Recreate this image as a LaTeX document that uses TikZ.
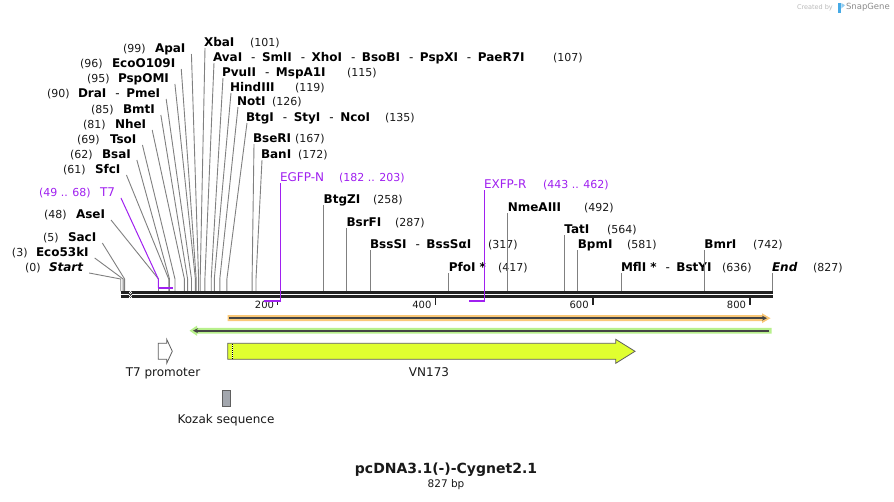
\documentclass[tikz,border=0pt]{standalone}
\usepackage{fontspec}
\setmainfont{DejaVu Sans}
\usetikzlibrary{arrows.meta}
\definecolor{prim}{RGB}{160,32,240}
\definecolor{sitegray}{RGB}{128,128,128}
\definecolor{bb}{RGB}{34,34,34}
\definecolor{orangeF}{RGB}{250,200,120}
\definecolor{greenF}{RGB}{184,240,140}
\definecolor{vnF}{RGB}{224,255,48}
\definecolor{kozF}{RGB}{163,167,174}
\definecolor{edgeG}{RGB}{95,95,95}
\definecolor{darkF}{RGB}{68,68,68}
\definecolor{sgblue}{RGB}{70,170,230}
\tikzset{
  every node/.style={inner sep=0pt, outer sep=0pt},
  namelab/.style={font=\fontsize{12}{14}\selectfont\bfseries, text=black},
  numlab/.style={font=\fontsize{11}{13}\selectfont, text=black!90},
  primlab/.style={font=\fontsize{12}{14}\selectfont, text=prim},
  primnum/.style={font=\fontsize{11}{13}\selectfont, text=prim},
  siteline/.style={draw=sitegray, line width=0.9pt},
  primline/.style={draw=prim, line width=1.3pt},
  primbar/.style={draw=prim, line width=2pt},
  featlab/.style={font=\fontsize{12}{14}\selectfont, text=black!90},
  ticklab/.style={font=\fontsize{10}{12}\selectfont, text=black!90},
  featedge/.style={draw=edgeG, line width=0.8pt},
}
\newcommand\sep{\hspace{9pt}{\mdseries-}\hspace{6.5pt}}
% left fan: id, num, numx, name, namex, yc, sitex
\newcommand\lsite[7]{%
  \node[numlab, anchor=base west] (#1n) at (#3,#6+4) {#2};
  \node[namelab, anchor=base west] (#1) at (#5,#6+4) {#4};
  \coordinate (#1k) at (#7,279);
  \coordinate (#1b) at (#7,291);
  \draw[siteline] ([xshift=6pt,yshift=-2pt]#1.base east) -- (#1k) -- (#1b);
}
% right fan: id, name, namex, num, numx, yc, sitex
\newcommand\rsite[7]{%
  \node[namelab, anchor=base west] (#1) at (#3,#6+4) {#2};
  \node[numlab, anchor=base west] (#1n) at (#5,#6+4) {#4};
  \coordinate (#1k) at (#7,279);
  \coordinate (#1b) at (#7,291);
  \draw[siteline] ([xshift=1pt,yshift=-2pt]#1.base west) -- (#1k) -- (#1b);
}
% straight: id, name, sitex, num, numx, yc
\newcommand\ssite[6]{%
  \node[namelab, anchor=base west] (#1) at (#3,#6+4) {#2};
  \node[numlab, anchor=base west] (#1n) at (#5,#6+4) {#4};
  \coordinate (#1b) at (#3,291);
  \draw[siteline] ([yshift=-2pt]#1.base west) -- (#1b);
}
\begin{document}
\begin{tikzpicture}[x=1pt, y=-1pt]
\useasboundingbox (0,0) rectangle (894,501);
\fill[white] (0,0) rectangle (894,501);

% SnapGene mark
\node[anchor=west, font=\fontsize{6.5}{8}\selectfont, text=black!27] (created) at (797,7.5) {Created by};
\fill[sgblue] (838,3) rectangle (841.3,13);
\fill[sgblue!60] (841.3,3) -- (845,5.2) -- (841.3,8.5) -- cycle;
\node[anchor=west, font=\fontsize{8.5}{10}\selectfont, text=black!45] (snapgene) at (846,7.5) {SnapGene};

% left fan sites
\lsite{apa}{(99)}{123}{ApaI}{155}{48}{198.6}
\lsite{ecoo}{(96)}{80}{EcoO109I}{112}{63}{196.2}
\lsite{pspomi}{(95)}{87}{PspOMI}{118}{78}{195.4}
\lsite{dra}{(90)}{47}{DraI\sep PmeI}{78}{93}{191.5}
\lsite{bmt}{(85)}{91}{BmtI}{123}{109}{187.6}
\lsite{nhe}{(81)}{83}{NheI}{115}{124}{184.4}
\lsite{tso}{(69)}{77}{TsoI}{110}{139}{175.0}
\lsite{bsa}{(62)}{70}{BsaI}{102}{154}{169.5}
\lsite{sfc}{(61)}{63}{SfcI}{95}{169}{168.7}
\lsite{ase}{(48)}{44}{AseI}{76}{214}{158.5}
\lsite{sac}{(5)}{43}{SacI}{68}{237}{124.6}
\lsite{ecok}{(3)}{12}{Eco53kI}{36}{252}{123.1}
\lsite{start}{(0)}{25}{\itshape Start}{49}{267}{120.7}

% right fan sites
\rsite{xba}{XbaI}{204}{(101)}{250}{42}{200.2}
\rsite{ava}{AvaI\sep SmlI\sep XhoI\sep BsoBI\sep PspXI\sep PaeR7I}{213}{(107)}{553}{57}{204.9}
\rsite{pvu}{PvuII\sep MspA1I}{222}{(115)}{347}{72}{211.2}
\rsite{hind}{HindIII}{230}{(119)}{295}{87}{214.3}
\rsite{noti}{NotI}{237}{(126)}{272}{101}{219.8}
\rsite{btg}{BtgI\sep StyI\sep NcoI}{246}{(135)}{385}{117}{226.9}
\rsite{bser}{BseRI}{253}{(167)}{295}{138}{252.1}
\rsite{ban}{BanI}{261}{(172)}{298}{154}{256.0}

% straight sites
\ssite{btgz}{BtgZI}{323.7}{(258)}{373}{199}
\ssite{bsrf}{BsrFI}{346.5}{(287)}{395}{222}
\ssite{bsss}{BssSI\sep BssSαI}{370.1}{(317)}{488}{244}
\ssite{pfo}{PfoI\hspace{4pt}*}{448.8}{(417)}{498}{267}
\ssite{nme}{NmeAIII}{507.8}{(492)}{584}{207}
\ssite{tat}{TatI}{564.4}{(564)}{607}{229}
\ssite{bpm}{BpmI}{577.8}{(581)}{627}{244}
\ssite{mfl}{MflI\hspace{4pt}*\sep BstYI}{621.0}{(636)}{722}{267}
\ssite{bmr}{BmrI}{704.4}{(742)}{753}{244}
\ssite{endsite}{\itshape End}{772}{(827)}{813}{267}

% backbone
\draw[bb, line width=2.6pt] (120.5,292.2) -- (773,292.2);
\draw[bb, line width=2.6pt] (120.5,296.5) -- (773,296.5);
\fill[white] (128.6,290.8) rectangle (131.6,297.9);
\draw[bb!80, line width=0.9pt, dash pattern=on 0.9pt off 0.9pt] (129.1,290.8) -- (129.1,297.9);
\draw[bb!80, line width=0.9pt, dash pattern=on 0.9pt off 0.9pt, dash phase=0.9pt] (130.2,290.8) -- (130.2,297.9);
\draw[bb!80, line width=0.9pt, dash pattern=on 0.9pt off 0.9pt] (131.2,290.8) -- (131.2,297.9);

% ruler
\draw[bb, line width=1.8pt] (277.5,302) -- (277.5,304.5);
\node[ticklab, anchor=base east] (t200) at (274,308.5) {200};
\foreach \tx/\tl in {435.4/400, 592.7/600, 750/800}{
  \draw[bb, line width=1.8pt] (\tx,298) -- (\tx,305);
  \node[ticklab, anchor=base east] at (\tx-4,308.5) {\tl};
}

% T7 primer
\node[primnum, anchor=base west] (t7n) at (39,196) {(49 .. 68)};
\node[primlab, anchor=base west] (t7) at (100,196) {T7};
\coordinate (t7k) at (158.3,279);
\coordinate (t7b) at (158.3,287.7);
\coordinate (t7e) at (172.7,287.7);
\draw[prim, line width=1pt] ([xshift=6pt,yshift=-2pt]t7.base east) -- (t7k) -- (t7b);
\draw[primbar] ([xshift=-0.5pt]t7b) -- (t7e);

% EGFP-N primer
\node[primlab, anchor=base west] (egfp) at (280,181) {EGFP-N};
\node[primnum, anchor=base west] (egfpn) at (339,181) {(182 .. 203)};
\coordinate (egfpc) at (280.4,300.5);
\coordinate (egfpe) at (263.9,300.5);
\draw[primline] ([xshift=0.4pt,yshift=-2pt]egfp.base west) -- (egfpc);
\draw[primbar] ([xshift=0.6pt]egfpc) -- (egfpe);

% EXFP-R primer
\node[primlab, anchor=base west] (exfp) at (484,188) {EXFP-R};
\node[primnum, anchor=base west] (exfpn) at (543,188) {(443 .. 462)};
\coordinate (exfpc) at (484.3,300.7);
\coordinate (exfpe) at (469.2,300.7);
\draw[primline] ([xshift=0.3pt,yshift=-2pt]exfp.base west) -- (exfpc);
\draw[primbar] ([xshift=0.6pt]exfpc) -- (exfpe);

% orange feature (forward)
\fill[orangeF] (227.5,315.2) -- (762,315.2) -- (762,313.3) -- (770.5,318.2) -- (762,323.1) -- (762,321.2) -- (227.5,321.2) -- cycle;
\draw[darkF, line width=1.6pt, -{Stealth[length=5pt,width=5pt]}] (229,318.2) -- (767,318.2);

% green feature (reverse)
\fill[greenF] (771.5,327.9) -- (197,327.9) -- (197,325.6) -- (189.5,330.7) -- (197,335.8) -- (197,333.5) -- (771.5,333.5) -- cycle;
\draw[darkF, line width=1.6pt, -{Stealth[length=5pt,width=5pt]}] (768.5,330.7) -- (193,330.7);

% T7 promoter
\draw[featedge, fill=white] (158.3,343.3) -- (166.7,343.3) -- (166.7,339.3) -- (172.3,351.3) -- (166.7,363.3) -- (166.7,359.3) -- (158.3,359.3) -- cycle;
\node[featlab, anchor=base] (t7p) at (163,376.5) {T7 promoter};

% VN173
\draw[featedge, fill=vnF] (227.7,343.3) -- (615.7,343.3) -- (615.7,339.3) -- (635,351.3) -- (615.7,363.3) -- (615.7,359.3) -- (227.7,359.3) -- cycle;
\draw[white, line width=1pt] (232.7,343.8) -- (232.7,358.8);
\draw[black, line width=1pt, dash pattern=on 1pt off 1pt] (232.7,343.8) -- (232.7,358.8);
\node[featlab, anchor=base] (vn) at (429,376.5) {VN173};

% Kozak
\draw[featedge, fill=kozF] (222.3,390) rectangle (230.7,406.7);
\node[featlab, anchor=base] (koz) at (226,423.5) {Kozak sequence};

% title
\node[font=\fontsize{14}{16}\selectfont\bfseries, text=black!90] (title) at (446,470) {pcDNA3.1(-)-Cygnet2.1};
\node[font=\fontsize{10.5}{12}\selectfont, text=black!90] (bp) at (446,484.5) {827 bp};
\end{tikzpicture}
\end{document}
